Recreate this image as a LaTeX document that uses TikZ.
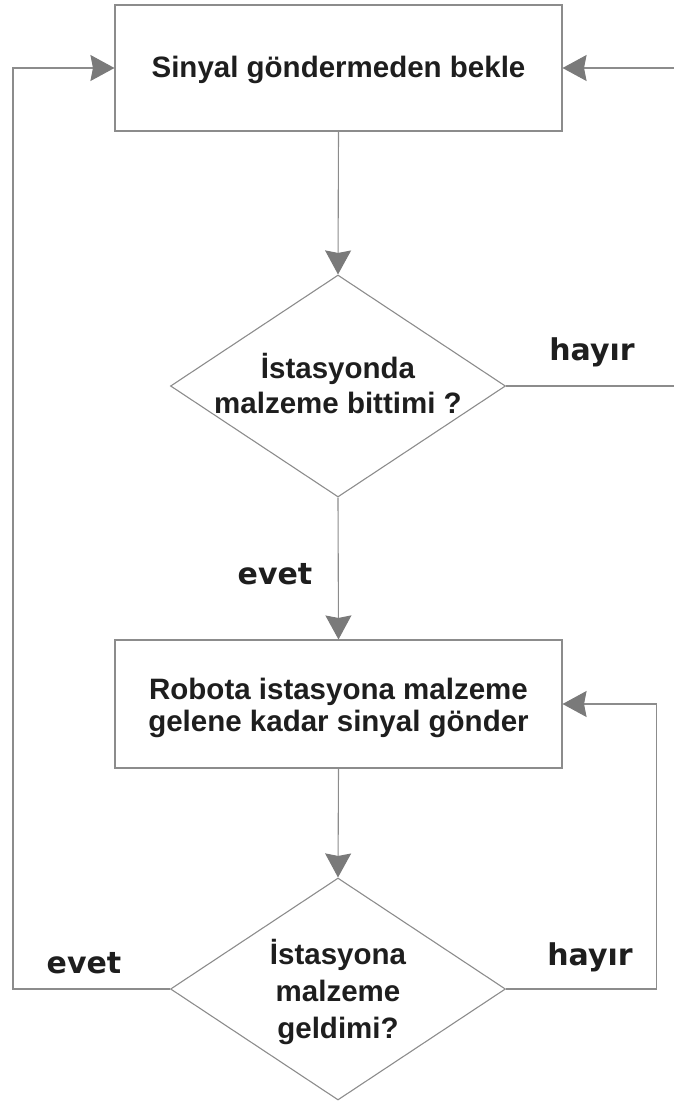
\documentclass[tikz,border=0pt]{standalone}
\usepackage{fontspec}
\setmainfont{Liberation Sans}
\newfontfamily\lblfont{DejaVu Sans}
\usetikzlibrary{arrows.meta,shapes.geometric}
\definecolor{linegray}{HTML}{8C8C8C}
\definecolor{arrowgray}{HTML}{7A7A7A}
\definecolor{textcol}{HTML}{1E1E1E}
\begin{document}
\begin{tikzpicture}[x=1pt,y=-1pt,
  line/.style={draw=linegray, line width=1.1pt},
  arr/.style={line, -{Stealth[inset=2.5pt,length=24pt,width=26pt,color=arrowgray,fill=arrowgray]}},
  box/.style={draw=linegray, line width=1.1pt, minimum width=447pt, inner sep=0pt},
  dec/.style={diamond, draw=linegray, line width=1.1pt, minimum width=335pt, minimum height=222pt, inner sep=0pt},
  txt/.style={font=\bfseries\fontsize{29.5}{35}\selectfont, align=center, text=textcol, inner sep=0pt},
  lbl/.style={font=\lblfont\bfseries\fontsize{30}{34}\selectfont, text=textcol, inner sep=0pt, anchor=base}
]
\useasboundingbox (0,0) rectangle (674,1101);
\node[box, minimum height=126pt] (b1) at (338.5,68) {};
\node[txt] (t1) at ([yshift=-2pt]b1.center) {Sinyal göndermeden bekle};
\node[dec] (d1) at (338,386) {};
\node[txt] (t2) at ([yshift=2pt]d1.center) {İstasyonda\\malzeme bittimi ?};
\node[box, minimum height=128pt] (b2) at (338.5,704) {};
\node[txt, font=\bfseries\fontsize{29.5}{32}\selectfont] (t3) at ([yshift=-4pt]b2.center) {Robota istasyona malzeme\\gelene kadar sinyal gönder};
\node[dec] (d2) at (338,989) {};
\node[txt, font=\bfseries\fontsize{29.5}{37}\selectfont] (t4) at ([yshift=-3pt]d2.center) {İstasyona\\malzeme\\geldimi?};
\coordinate (rin) at (674,68);
\coordinate (rout) at (674,386);
\draw[arr] (b1.south) -- (d1.north);
\draw[arr] (rin) -- (b1.east);
\draw[line] (d1.east) -- (rout);
\draw[arr] (d1.south) -- (b2.north);
\draw[arr] (b2.south) -- (d2.north);
\draw[arr] (d2.west) -- ++(-157,0) |- (b1.west);
\draw[arr] (d2.east) -- ++(150,0) |- (b2.east);
\node[lbl] (h1) at (592,360) {hayır};
\node[lbl] (e1) at (275,584) {evet};
\node[lbl] (e2) at (84,973) {evet};
\node[lbl] (h2) at (590,965) {hayır};
\end{tikzpicture}
\end{document}
